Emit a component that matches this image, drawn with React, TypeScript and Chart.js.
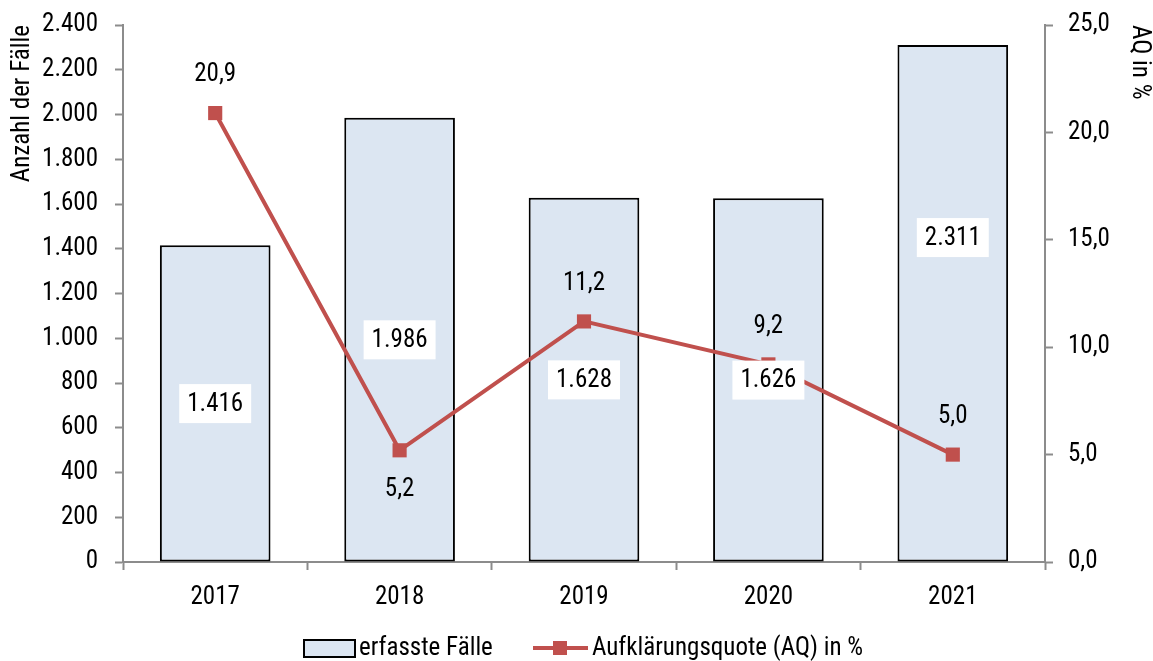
import React, { useEffect, useRef } from "react";
import { Chart, registerables } from "chart.js";

Chart.register(...registerables);

const years = ["2017", "2018", "2019", "2020", "2021"];
const cases = [1416, 1986, 1628, 1626, 2311];
const rates = [20.9, 5.2, 11.2, 9.2, 5.0];
const rateLabelSide = ["above", "below", "above", "above", "above"];
const caseLabelAt: (number | null)[] = [null, null, null, null, 1450];

const BAR_FILL = "#dce6f2";
const LINE = "#c0504d";
const AXIS = "#8c8c8c";

const FONT = "'Roboto Condensed', 'Liberation Sans Narrow', 'Liberation Sans', Arial, sans-serif";
const FS = 25;

const fmtInt = (v: number) => String(Math.round(v)).replace(/\B(?=(\d{3})+(?!\d))/g, ".");
const fmtDec = (v: number) => v.toFixed(1).replace(".", ",");

const zeroPad = (s: any) => {
  s.paddingTop = 0;
  s.paddingBottom = 0;
  s.paddingLeft = 0;
  s.paddingRight = 0;
};

const labelsPlugin = {
  id: "customLabels",
  afterDatasetsDraw(chart: any) {
    const ctx = chart.ctx;
    const y = chart.scales.y;
    const y1 = chart.scales.y1;
    const barMeta = chart.getDatasetMeta(1);
    const lineMeta = chart.getDatasetMeta(0);
    ctx.save();
    ctx.font = `${FS}px ${FONT}`;
    ctx.textAlign = "center";
    ctx.textBaseline = "middle";
    barMeta.data.forEach((bar: any, i: number) => {
      const v = cases[i];
      const anchor = caseLabelAt[i] != null ? (caseLabelAt[i] as number) : v / 2;
      const py = y.getPixelForValue(anchor);
      const txt = fmtInt(v);
      const w = ctx.measureText(txt).width + 16;
      const h = 39;
      ctx.fillStyle = "#ffffff";
      ctx.fillRect(bar.x - w / 2, py - h / 2, w, h);
      ctx.fillStyle = "#000000";
      ctx.fillText(txt, bar.x, py + 1);
    });
    lineMeta.data.forEach((pt: any, i: number) => {
      const off = rateLabelSide[i] === "above" ? -38 : 39;
      ctx.fillStyle = "#000000";
      ctx.fillText(fmtDec(rates[i]), pt.x, y1.getPixelForValue(rates[i]) + off);
    });
    ctx.restore();
  },
  afterDraw(chart: any) {
    const ctx = chart.ctx;
    ctx.save();
    const cy = 648;
    ctx.fillStyle = BAR_FILL;
    ctx.fillRect(304, 640, 51, 17);
    ctx.strokeStyle = "#000000";
    ctx.lineWidth = 2;
    ctx.strokeRect(304, 640, 51, 17);
    ctx.font = `${FS}px ${FONT}`;
    ctx.textAlign = "left";
    ctx.textBaseline = "middle";
    ctx.fillStyle = "#000000";
    ctx.fillText("erfasste Fälle", 359, cy + 1);
    ctx.strokeStyle = LINE;
    ctx.lineWidth = 4;
    ctx.beginPath();
    ctx.moveTo(533, cy);
    ctx.lineTo(588, cy);
    ctx.stroke();
    ctx.fillStyle = LINE;
    ctx.fillRect(560 - 7, cy - 7, 14, 14);
    ctx.fillStyle = "#000000";
    ctx.fillText("Aufklärungsquote (AQ) in %", 592, cy + 1);
    ctx.restore();
  },
};

export default function App() {
  const ref = useRef<HTMLCanvasElement | null>(null);
  useEffect(() => {
    document.body.style.margin = "0";
    const canvas = ref.current!;
    const chart = new Chart(canvas, {
      type: "bar",
      data: {
        labels: years,
        datasets: [
          {
            type: "line",
            label: "Aufklärungsquote (AQ) in %",
            data: rates,
            yAxisID: "y1",
            borderColor: LINE,
            backgroundColor: LINE,
            borderWidth: 4,
            pointStyle: "rect",
            pointRadius: 10,
            pointBorderWidth: 0,
            pointBackgroundColor: LINE,
            tension: 0,
            order: 0,
          } as any,
          {
            type: "bar",
            label: "erfasste Fälle",
            data: cases,
            yAxisID: "y",
            backgroundColor: BAR_FILL,
            borderColor: "#000000",
            borderWidth: 2,
            borderSkipped: false,
            categoryPercentage: 1,
            barPercentage: 0.6,
            order: 1,
          } as any,
        ],
      },
      options: {
        responsive: false,
        animation: false,
        devicePixelRatio: 1,
        layout: { padding: { top: 25, bottom: 39, left: 0, right: 0 } },
        plugins: { legend: { display: false }, tooltip: { enabled: false } },
        scales: {
          x: {
            grid: { offset: true, drawOnChartArea: false, drawTicks: true, tickLength: 8, color: AXIS, tickWidth: 2 } as any,
            border: { color: AXIS, width: 2 },
            ticks: { color: "#000", font: { family: FONT, size: FS }, padding: 13, maxRotation: 0 },
            afterFit: (s: any) => { s.height = 60; zeroPad(s); },
          },
          y: {
            position: "left",
            min: 0,
            max: 2400,
            grid: { drawOnChartArea: false, drawTicks: true, tickLength: 8, color: AXIS, tickWidth: 2 } as any,
            border: { color: AXIS, width: 2 },
            ticks: {
              stepSize: 200,
              color: "#000",
              font: { family: FONT, size: FS },
              padding: 17,
              callback: (v: any) => fmtInt(Number(v)),
            },
            title: {
              display: true,
              text: "Anzahl der Fälle",
              align: "end",
              color: "#000",
              font: { family: FONT, size: FS, lineHeight: 1 },
              padding: { top: 10, bottom: 0 },
            },
            afterFit: (s: any) => { s.width = 123; zeroPad(s); },
          },
          y1: {
            position: "right",
            min: 0,
            max: 25,
            grid: { drawOnChartArea: false, drawTicks: true, tickLength: 8, color: AXIS, tickWidth: 2 } as any,
            border: { color: AXIS, width: 2 },
            ticks: {
              stepSize: 5,
              color: "#000",
              font: { family: FONT, size: FS },
              padding: 15,
              callback: (v: any) => fmtDec(Number(v)),
            },
            title: {
              display: true,
              text: "AQ in %",
              align: "end",
              color: "#000",
              font: { family: FONT, size: FS, lineHeight: 1 },
              padding: { top: 1, bottom: 0 },
            },
            afterFit: (s: any) => { s.width = 108; zeroPad(s); },
          },
        },
      },
      plugins: [labelsPlugin],
    });
    return () => chart.destroy();
  }, []);
  return <canvas ref={ref} width={1153} height={661} style={{ display: "block", width: 1153, height: 661 }} />;
}
